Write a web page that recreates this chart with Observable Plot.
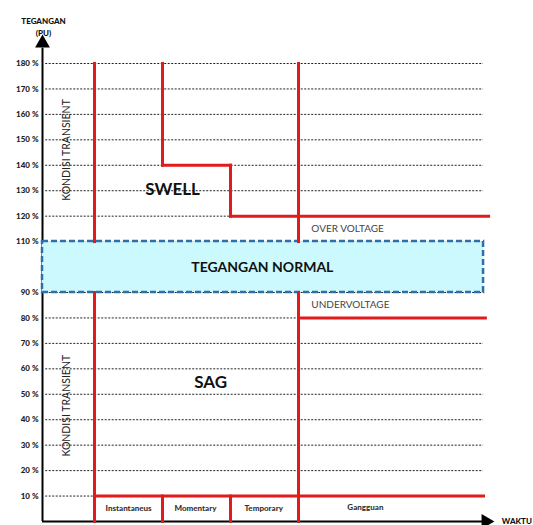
<!DOCTYPE html>
<html>
<head>
<meta charset="utf-8">
<script src="https://cdn.jsdelivr.net/npm/d3@7"></script>
<script src="https://cdn.jsdelivr.net/npm/@observablehq/plot@0.6"></script>
<style>
  html, body { margin: 0; padding: 0; background: #fff; }
  #chart svg { display: block; }
</style>
</head>
<body>
<div id="chart"></div>
<script>
// Y tick values (percent)
const yTicks = [10, 20, 30, 40, 50, 60, 70, 80, 90, 110, 120, 130, 140, 150, 160, 170, 180];
// Time boundaries (x, arbitrary time units)
const tInstant = 11.35, tMomentary = 26.2, tTemporary = 41.05, tGangguan = 55.9, tEnd = 96.7;
// Voltage thresholds (%)
const vTop = 180, vSwellHigh = 140, vOver = 120, vNormHigh = 110, vNormLow = 90, vUnder = 80, vLow = 10;

const redSegments = [
  {x1: tInstant, y1: vTop, x2: tInstant, y2: vNormHigh},
  {x1: tInstant, y1: vNormLow, x2: tInstant, y2: 0},
  {x1: tMomentary, y1: vTop, x2: tMomentary, y2: vSwellHigh},
  {x1: tMomentary, y1: vSwellHigh, x2: tTemporary, y2: vSwellHigh},
  {x1: tTemporary, y1: vSwellHigh, x2: tTemporary, y2: vOver},
  {x1: tTemporary, y1: vOver, x2: 97.4, y2: vOver},
  {x1: tGangguan, y1: vTop, x2: tGangguan, y2: vNormHigh},
  {x1: tGangguan, y1: vNormLow, x2: tGangguan, y2: 0},
  {x1: tGangguan, y1: vUnder, x2: tEnd, y2: vUnder},
  {x1: tInstant, y1: vLow, x2: 96.3, y2: vLow},
  {x1: tMomentary, y1: vLow, x2: tMomentary, y2: 0},
  {x1: tTemporary, y1: vLow, x2: tTemporary, y2: 0}
];

const normalBand = [{x1: 0, x2: 96.3, y1: vNormLow, y2: vNormHigh}];

const periodLabels = [
  {x: 18.8, y: 5, text: "Instantaneus"},
  {x: 33.4, y: 5, text: "Momentary"},
  {x: 48.3, y: 5, text: "Temporary"},
  {x: 70.5, y: 5.6, text: "Gangguan"}
];
const bigLabels = [
  {x: 28.4, y: 130.5, text: "SWELL"},
  {x: 36.7, y: 54.6, text: "SAG"}
];
const smallLabels = [
  {x: 58.7, y: 115.2, text: "OVER VOLTAGE"},
  {x: 58.7, y: 85.3, text: "UNDERVOLTAGE"}
];
const transientLabels = [
  {x: 5.2, y: 146, text: "KONDISI TRANSIENT"},
  {x: 5.2, y: 45.5, text: "KONDISI TRANSIENT"}
];

const font = "Lato, 'Open Sans', sans-serif";

const chart = Plot.plot({
  width: 533,
  height: 525,
  marginLeft: 42,
  marginRight: 33,
  marginTop: 63,
  marginBottom: 4,
  style: {fontFamily: font, background: "#fff", overflow: "visible"},
  x: {domain: [0, 100], axis: null},
  y: {domain: [0, 180], axis: null},
  marks: [
    // dotted gridlines
    Plot.ruleY(yTicks, {x1: 0.7, x2: 96.3, stroke: "#222", strokeWidth: 1, strokeDasharray: "2,1.5"}),
    // y axis tick labels
    Plot.axisY(yTicks, {tickFormat: d => d + " %", tickSize: 0, tickPadding: 4, fontWeight: "900", fontSize: 8, fill: "#222", label: null}),
    // axes lines
    Plot.ruleX([0], {y1: 0, y2: 186, stroke: "#000", strokeWidth: 2}),
    Plot.ruleY([0], {x1: 0, x2: 96.5, stroke: "#000", strokeWidth: 2}),
    Plot.dot([{x: 0, y: 188}], {x: "x", y: "y", symbol: "triangle", r: 5.5, fill: "#000", stroke: null}),
    Plot.dot([{x: 96.8, y: 0}], {x: "x", y: "y", symbol: "triangle", r: 5.5, fill: "#000", stroke: null, rotate: 90}),
    // normal band
    Plot.rect(normalBand, {x1: "x1", x2: "x2", y1: "y1", y2: "y2", fill: "#ccf9fd", stroke: "#2f6fa8", strokeWidth: 2.5, strokeDasharray: "6,3"}),
    // red boundary lines
    Plot.link(redSegments, {x1: "x1", y1: "y1", x2: "x2", y2: "y2", stroke: "#e31a1c", strokeWidth: 3, strokeLinecap: "square"}),
    // labels
    Plot.text(bigLabels, {x: "x", y: "y", text: "text", fontSize: 17, fontWeight: "bold", fill: "#111"}),
    Plot.text([{x: 48, y: 100, text: "TEGANGAN NORMAL"}], {x: "x", y: "y", text: "text", fontSize: 14, fontWeight: "bold", fill: "#111"}),
    Plot.text(smallLabels, {x: "x", y: "y", text: "text", fontSize: 10, fill: "#444", textAnchor: "start"}),
    Plot.text(periodLabels, {x: "x", y: "y", text: "text", fontSize: 8, fontWeight: "900", fill: "#333"}),
    Plot.text(transientLabels, {x: "x", y: "y", text: "text", fontSize: 10.5, fill: "#222", rotate: -90}),
    Plot.text([{x: 100.3, y: 0, text: "WAKTU"}], {x: "x", y: "y", text: "text", fontSize: 8, fontWeight: "900", fill: "#111", textAnchor: "start"}),
    Plot.text(["TEGANGAN"], {frameAnchor: "top-left", textAnchor: "middle", dx: 1, dy: -45, fontSize: 8, fontWeight: "900", fill: "#111"}),
    Plot.text(["(PU)"], {frameAnchor: "top-left", textAnchor: "middle", dx: 1, dy: -33, fontSize: 8, fontWeight: "900", fill: "#111"})
  ]
});
document.getElementById("chart").appendChild(chart);
</script>
</body>
</html>
